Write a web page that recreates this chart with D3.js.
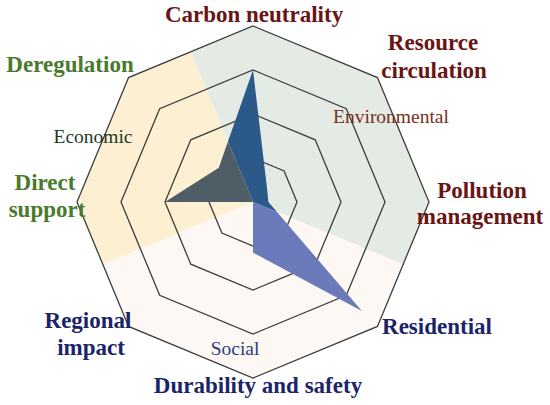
<!DOCTYPE html>
<meta charset="utf-8">
<style>
  body { margin: 0; background: #fff; }
  svg { display: block; }
  .grid path { fill: none; stroke: #3d3d3d; stroke-width: 1.3px; }
  text { font-family: "Liberation Serif", "Times New Roman", serif; }
  .axis-label { font-weight: bold; font-size: 23px; }
  .group-label { font-size: 19.5px; }
</style>
<body>
<svg width="550" height="405"></svg>
<script src="https://cdn.jsdelivr.net/npm/d3@7"></script>
<script>
  // axes clockwise from the top
  var axes = ["Carbon neutrality", "Resource circulation", "Pollution management", "Residential",
    "Durability and safety", "Regional impact", "Direct support", "Deregulation"];
  var scores = [3, 0.45, 0.35, 3.5, 1.15, 0, 2, 1.1];
  var levels = [1, 2, 3, 4];

  var groups = ["Environmental", "Social", "Economic"];
  var groupAxes = [[0, 1, 2], [3, 4, 5], [6, 7]];

  var svg = d3.select("svg"),
    cx = 253, cy = 202;

  var n = axes.length,
    step = 2 * Math.PI / n;
  var r = d3.scaleLinear().domain([0, 4]).range([0, 176]);

  var bgColor = { Environmental: "#e3ebe4", Social: "#fdf8f3", Economic: "#fdefd2" };
  var shapeColor = { Environmental: "#2b5988", Social: "#6a7abb", Economic: "#4f5d67" };
  var textColor = { Environmental: "#6a1414", Social: "#1b2468", Economic: "#4a7a2e" };
  var subColor = { Environmental: "#7a3020", Social: "#2e4080", Economic: "#1f3a1f" };

  var ring = d3.lineRadial()
    .angle(function(d, i) { return i * step; })
    .radius(function(d) { return r(d); })
    .curve(d3.curveLinearClosed);

  var g = svg.append("g").attr("transform", "translate(" + cx + "," + cy + ")");
  var defs = svg.append("defs");

  defs.append("clipPath").attr("id", "outer")
    .append("path").attr("d", ring(axes.map(function() { return 4; })));

  var sector = d3.arc().innerRadius(0).outerRadius(400);
  groups.forEach(function(name, k) {
    var idx = groupAxes[k];
    defs.append("clipPath").attr("id", "sec" + k)
      .append("path")
      .attr("transform", "translate(" + cx + "," + cy + ")")
      .attr("d", sector({ startAngle: (idx[0] - 0.5) * step, endAngle: (idx[idx.length - 1] + 0.5) * step }));
  });

  // sector backgrounds inside the outer octagon
  var bg = g.append("g").attr("clip-path", "url(#outer)");
  groups.forEach(function(name, k) {
    var idx = groupAxes[k];
    bg.append("path")
      .attr("d", sector({ startAngle: (idx[0] - 0.5) * step, endAngle: (idx[idx.length - 1] + 0.5) * step }))
      .attr("fill", bgColor[name]);
  });

  // score shape, coloured by sector
  groups.forEach(function(name, k) {
    svg.append("g").attr("clip-path", "url(#sec" + k + ")")
      .append("path")
      .attr("transform", "translate(" + cx + "," + cy + ")")
      .attr("d", ring(scores))
      .attr("fill", shapeColor[name]);
  });

  // rings
  g.append("g").attr("class", "grid")
    .selectAll("path")
    .data(levels)
    .enter().append("path")
    .attr("d", function(l) { return ring(axes.map(function() { return l; })); });

  // axis labels: [x, baseline y] of each line
  var labelPos = [
    [[254, 22]],
    [[433, 50], [434, 78]],
    [[482, 198], [480, 224]],
    [[437, 334]],
    [[258, 393]],
    [[88, 328], [91, 355]],
    [[45, 190], [47, 217]],
    [[70, 72]]
  ];
  var lines = [
    ["Carbon neutrality"], ["Resource", "circulation"], ["Pollution", "management"], ["Residential"],
    ["Durability and safety"], ["Regional", "impact"], ["Direct", "support"], ["Deregulation"]
  ];

  function groupOf(i) {
    for (var k = 0; k < groups.length; k++) if (groupAxes[k].indexOf(i) >= 0) return groups[k];
  }

  axes.forEach(function(a, i) {
    lines[i].forEach(function(t, j) {
      svg.append("text")
        .attr("class", "axis-label")
        .attr("x", labelPos[i][j][0])
        .attr("y", labelPos[i][j][1])
        .attr("text-anchor", "middle")
        .attr("fill", textColor[groupOf(i)])
        .text(t);
    });
  });

  var groupPos = { Environmental: [391, 123], Economic: [93, 143], Social: [235, 355] };
  groups.forEach(function(name) {
    svg.append("text")
      .attr("class", "group-label")
      .attr("x", groupPos[name][0])
      .attr("y", groupPos[name][1])
      .attr("text-anchor", "middle")
      .attr("fill", subColor[name])
      .text(name);
  });
</script>
</body>
